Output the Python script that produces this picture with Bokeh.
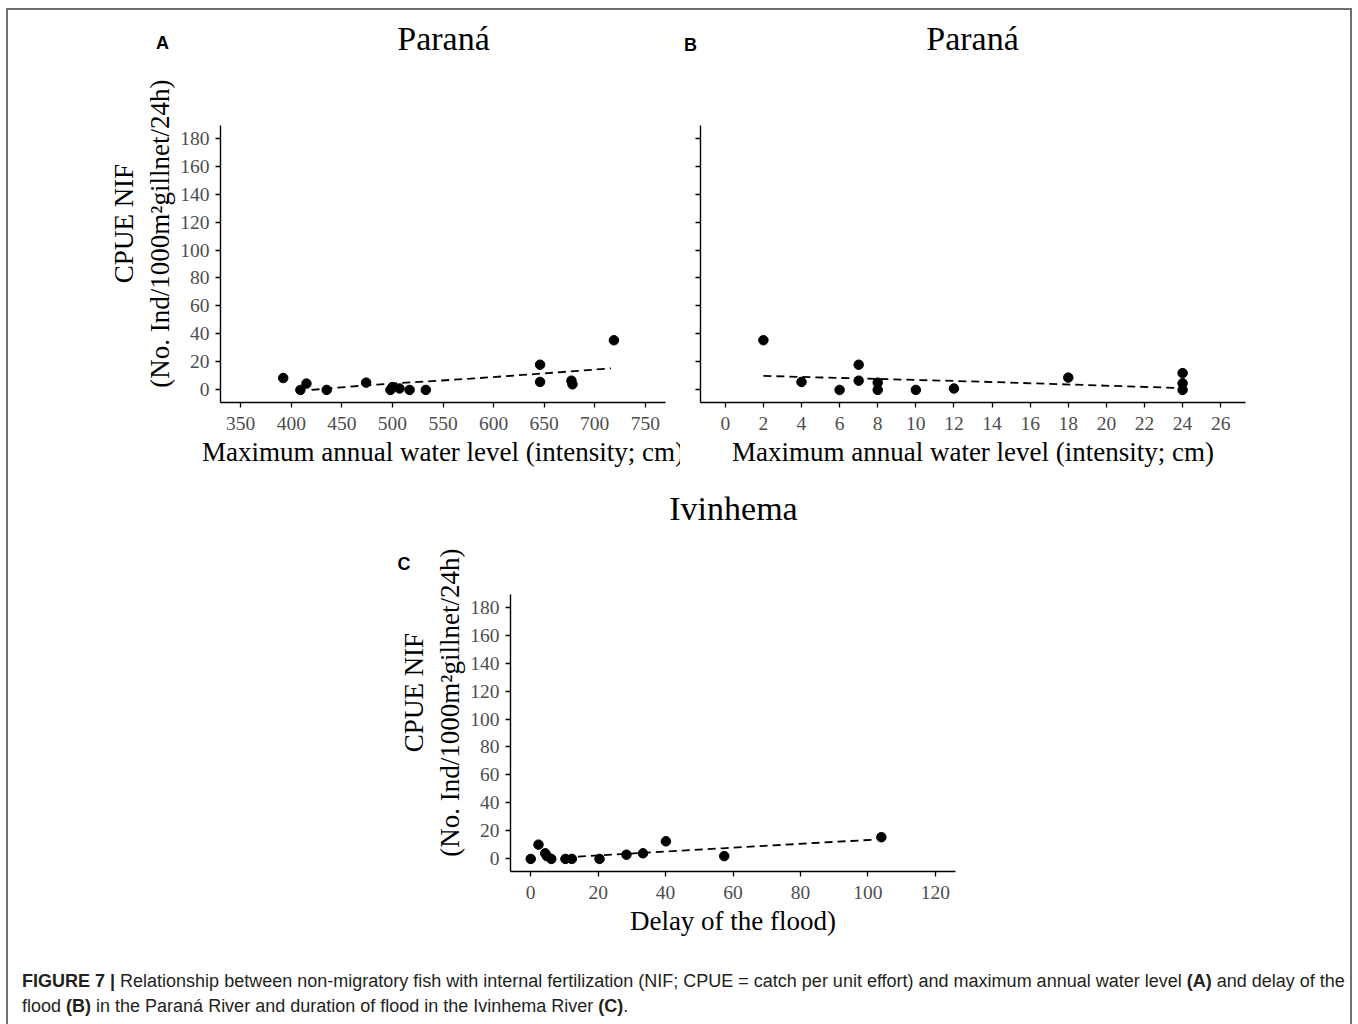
import numpy as np
from bokeh.plotting import figure
from bokeh.models import Range1d, FixedTicker, Div, Title
from bokeh.layouts import column, row
from bokeh.core.properties import value
from bokeh.embed import file_html
from bokeh.resources import INLINE

# ---------------- data ----------------
Y_TICKS = [0, 20, 40, 60, 80, 100, 120, 140, 160, 180]

# Panel A: maximum annual water level (Paraná)
A_x = [392, 409, 415, 435, 474, 498, 500, 507, 517, 533, 646, 646, 677, 678, 719]
A_y = [8.5, 0, 4.5, 0, 5.2, 0, 2, 1, 0, 0, 18, 5.7, 6.6, 4, 35.5]
A_fit_x = [420, 466, 503, 577, 650, 716]
A_fit_y = [0, 2.8, 4.7, 8, 11.8, 15.4]
A_xticks = [350, 400, 450, 500, 550, 600, 650, 700, 750]

# Panel B: delay of the flood (Paraná)
B_x = [2, 4, 6, 7, 7, 8, 8, 10, 12, 18, 24, 24, 24]
B_y = [35.5, 5.7, 0, 18, 6.6, 5.2, 0, 0, 1, 8.8, 12, 4.7, 0]
B_fit_x = [2, 13.4, 23.7]
B_fit_y = [10, 5.9, 1.4]
B_xticks = [0, 2, 4, 6, 8, 10, 12, 14, 16, 18, 20, 22, 24, 26]

# Panel C: Ivinhema
C_x = [0, 2.3, 4.3, 4.8, 6.1, 10.3, 12.2, 20.4, 28.4, 33.3, 40.1, 57.4, 104]
C_y = [0, 10.2, 4, 2, 0, 0, 0, 0, 3, 4, 12.6, 2, 15.5]
C_fit_x = [14, 57, 102]
C_fit_y = [1.7, 7.6, 13.8]
C_xticks = [0, 20, 40, 60, 80, 100, 120]

TITLES_TOP = ["Paran\u00e1", "Paran\u00e1"]
LETTERS_TOP = ["A", "B"]
TITLE_MID = ["Ivinhema"]

SERIF = "Liberation Serif"
SANS = "Liberation Sans"
YLAB = ("\u00a0" * 12 + "CPUE NIF\n" + "\u00a0" * 9 + "(No. Ind/1000m\u00b2gillnet/24h)")
XLAB_AB = "Maximum annual water level (intensity; cm)"
XLAB_C = "Delay of the flood)"

W = 1356


def panel(width, height, mbl, mbr, mbt, mbb, xr, xticks, xlabel, ylabel=None, show_ynums=True):
    p = figure(width=width, height=height, output_backend="svg", toolbar_location=None,
               title=None, x_range=Range1d(*xr), y_range=Range1d(-9, 189),
               min_border_left=mbl, min_border_right=mbr,
               min_border_top=mbt, min_border_bottom=mbb)
    p.border_fill_color = None
    p.background_fill_color = None
    p.outline_line_color = None
    p.grid.visible = False
    p.xaxis.ticker = FixedTicker(ticks=xticks)
    p.yaxis.ticker = FixedTicker(ticks=Y_TICKS)
    for ax in (p.xaxis[0], p.yaxis[0]):
        ax.axis_line_color = "black"
        ax.axis_line_width = 1.4
        ax.major_tick_line_color = "black"
        ax.major_tick_line_width = 1.3
        ax.major_tick_out = 5
        ax.major_tick_in = 0
        ax.minor_tick_line_color = None
        ax.major_label_text_font = SERIF
        ax.major_label_text_font_size = "19.5px"
        ax.major_label_text_color = "#4D4D4D"
        ax.axis_label_text_font = SERIF
        ax.axis_label_text_font_style = "normal"
        ax.axis_label_text_font_size = "27px"
        ax.axis_label_text_color = "black"
        ax.axis_label_standoff = 4
    p.xaxis.major_label_standoff = 9
    p.yaxis.major_label_standoff = 6
    p.xaxis.axis_label = xlabel
    if ylabel:
        p.yaxis.axis_label = ylabel
        p.yaxis.axis_label_standoff = 2
    if not show_ynums:
        p.yaxis.major_label_text_font_size = "0px"
        p.yaxis.major_label_standoff = 0
    return p


def header(height):
    h = figure(width=W, height=height, output_backend="svg", toolbar_location=None,
               title=None, x_range=Range1d(0, W), y_range=Range1d(height, 0),
               min_border=0)
    h.axis.visible = False
    h.grid.visible = False
    h.outline_line_color = None
    h.border_fill_color = None
    h.background_fill_color = None
    return h


def add_points(p, xs, ys, fx, fy):
    p.line(fx, fy, line_color="black", line_width=1.8, line_dash="8 5")
    p.scatter(xs, ys, size=9.5, color="black")


# ---- header row 1: titles and panel letters ----
h1 = header(60)
h1.text(x=[443, 972], y=[38, 38], text=TITLES_TOP, text_font=value(SERIF),
        text_font_size=value("34px"), text_align="center", text_baseline="middle",
        text_color="black")
h1.text(x=[162, 690], y=[42, 44], text=LETTERS_TOP, text_font=value(SANS),
        text_font_size=value("18px"), text_font_style="bold", text_align="center",
        text_baseline="middle", text_color="black")

# ---- Panel A ----
pA = panel(680, 420, 220, 15, 65, 78, (330, 770), A_xticks, XLAB_AB, ylabel=YLAB)
add_points(pA, A_x, A_y, A_fit_x, A_fit_y)

# ---- Panel B ----
pB = panel(W - 680, 420, 20, W - 1245, 65, 78, (-1.3, 27.3), B_xticks, XLAB_AB,
           show_ynums=False)
add_points(pB, B_x, B_y, B_fit_x, B_fit_y)

# ---- header row 2 ----
h2 = header(50)
h2.text(x=[733], y=[28], text=TITLE_MID, text_font=value(SERIF),
        text_font_size=value("34px"), text_align="center", text_baseline="middle",
        text_color="black")

# ---- Panel C ----
pC = panel(W, 414, 510, W - 955, 64, 73, (-6, 126), C_xticks, XLAB_C, ylabel=YLAB)
pC.add_layout(Title(text="C", align="left", offset=-113, standoff=42, text_font=SANS,
                    text_font_size="18px", text_font_style="bold", text_color="black"),
              "above")
add_points(pC, C_x, C_y, C_fit_x, C_fit_y)

caption_html = (
    '<div style="position:fixed;left:6px;top:8px;width:1346px;height:1100px;'
    'border:2px solid #707070;border-bottom:none;pointer-events:none;"></div>'
    '<div style="font-family:\'Liberation Sans\';font-size:18px;line-height:25px;'
    'color:#231F20;padding:20px 0 0 17px;white-space:nowrap;">'
    '<b>FIGURE 7 |</b> Relationship between non-migratory fish with internal fertilization '
    '(NIF; CPUE = catch per unit effort) and maximum annual water level <b>(A)</b> and delay of the<br>'
    'flood <b>(B)</b> in the Paran\u00e1 River and duration of flood in the Ivinhema River <b>(C)</b>.'
    '</div>'
)
cap = Div(text=caption_html, width=W, height=74)

layout = column(row(h1), row(pA, pB), row(h2), row(pC), cap)

open("out.html", "w").write(file_html(layout, INLINE))
